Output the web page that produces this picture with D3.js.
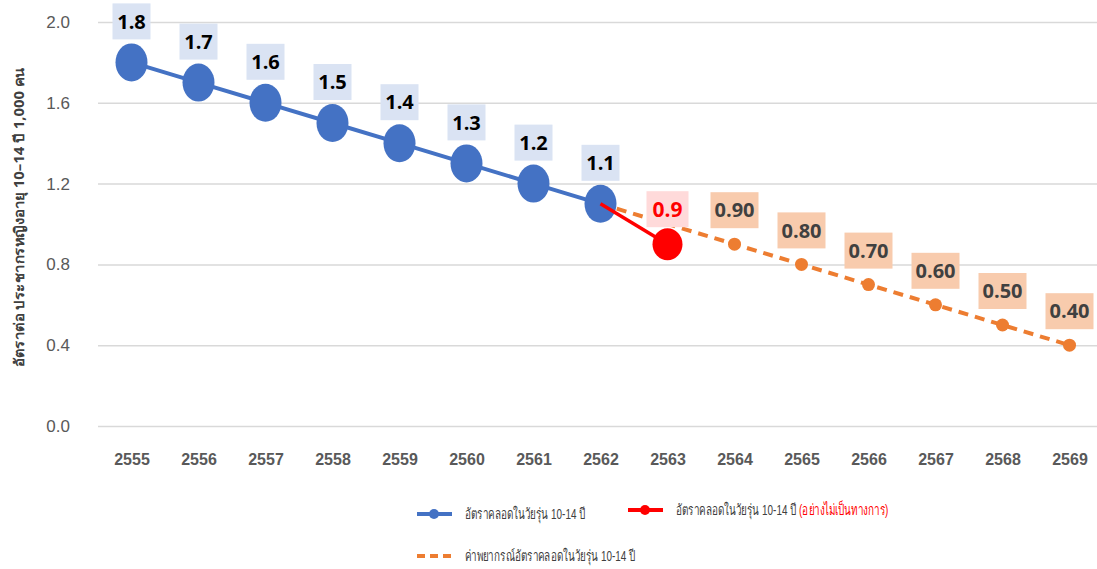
<!DOCTYPE html>
<html>
<head>
<meta charset="utf-8">
<script src="https://cdn.jsdelivr.net/npm/d3@7"></script>
<style>
  body { margin: 0; background: #fff; }
  text { font-family: "Liberation Sans", Arial, sans-serif; }
</style>
</head>
<body>
<div id="chart"></div>
<script>
// Years (Thai Buddhist calendar) and the three series.
const years = ["2555","2556","2557","2558","2559","2560","2561","2562","2563","2564","2565","2566","2567","2568","2569"];
const official = [1.8, 1.7, 1.6, 1.5, 1.4, 1.3, 1.2, 1.1];
const unofficial = [{year: "2562", value: 1.1}, {year: "2563", value: 0.9}];
// forecast series starts at 2562 and skips the blank 2563
const forecastYears = ["2562","2564","2565","2566","2567","2568","2569"];
const forecast = [1.1, 0.9, 0.8, 0.7, 0.6, 0.5, 0.4];
const yTicks = [0.0, 0.4, 0.8, 1.2, 1.6, 2.0];

const totalWidth = 1097;
const totalHeight = 569;
const margin = {top: 22, right: 0, bottom: 143, left: 98};
const width = 1005;
const height = totalHeight - margin.top - margin.bottom;

const svg = d3.select("#chart")
  .append("svg")
  .attr("width", totalWidth)
  .attr("height", totalHeight)
  .append("g")
  .attr("transform", `translate(${margin.left}, ${margin.top})`);

const x = d3.scalePoint().domain(years).range([33.5, width - 33.5]);
const y = d3.scaleLinear().domain([0, 2]).range([height, 0]);

// Gridlines + y labels
const yAxis = svg.append("g")
  .call(d3.axisLeft(y).tickValues(yTicks).tickFormat(d3.format(".1f")).tickSize(-width).tickPadding(28));
yAxis.select(".domain").remove();
yAxis.selectAll(".tick line").attr("stroke", "#d9d9d9").attr("stroke-width", 1.5);
yAxis.selectAll(".tick text").attr("fill", "#595959").style("font-size", "17px");

// x labels
const xAxis = svg.append("g")
  .attr("transform", `translate(0, ${height})`)
  .call(d3.axisBottom(x).tickSize(0).tickPadding(28));
xAxis.select(".domain").remove();
xAxis.selectAll(".tick text").attr("fill", "#595959").style("font-size", "16px").style("font-weight", "bold");

// y title
svg.append("text")
  .attr("transform", `translate(${-74}, ${195}) rotate(-90)`)
  .attr("text-anchor", "middle")
  .attr("fill", "#404040")
  .attr("textLength", 300)
  .attr("lengthAdjust", "spacingAndGlyphs")
  .style("font-size", "14px")
  .style("font-weight", "bold")
  .style("font-family", "'Noto Sans', sans-serif")
  .text("อัตราต่อ ประชากรหญิงอายุ 10–14 ปี 1,000 คน");

const line = d3.line().x(d => x(d.year)).y(d => y(d.value));

const officialData = official.map((v, i) => ({year: years[i], value: v}));
const forecastData = forecast.map((v, i) => ({year: forecastYears[i], value: v}));

// Lines
svg.append("path").datum(forecastData).attr("d", line)
  .attr("fill", "none").attr("stroke", "#ed7d31").attr("stroke-width", 4).attr("stroke-dasharray", "10,7");
svg.append("path").datum(officialData).attr("d", line)
  .attr("fill", "none").attr("stroke", "#4472c4").attr("stroke-width", 4);

// Markers
svg.selectAll(".blue").data(officialData).join("ellipse")
  .attr("cx", d => x(d.year)).attr("cy", d => y(d.value))
  .attr("rx", 16).attr("ry", 19).attr("fill", "#4472c4");
svg.selectAll(".orange").data(forecastData.slice(1)).join("circle")
  .attr("cx", d => x(d.year)).attr("cy", d => y(d.value))
  .attr("r", 6.5).attr("fill", "#ed7d31");
svg.append("ellipse")
  .attr("cx", x(unofficial[1].year)).attr("cy", y(unofficial[1].value))
  .attr("rx", 15).attr("ry", 16).attr("fill", "#ff0000");
svg.append("path").datum(unofficial).attr("d", line)
  .attr("fill", "none").attr("stroke", "#ff0000").attr("stroke-width", 3.5);

// Data labels
function labels(data, fmt, boxFill, textFill, dy, w, size) {
  const g = svg.append("g").selectAll("g").data(data).join("g")
    .attr("transform", d => `translate(${x(d.year)}, ${y(d.value) - dy})`);
  g.append("rect").attr("x", -w / 2).attr("y", -18).attr("width", w).attr("height", 36).attr("fill", boxFill);
  g.append("text").attr("text-anchor", "middle").attr("dy", "0.36em")
    .attr("fill", textFill).style("font-size", size + "px").style("font-weight", "bold")
    .style("font-family", "'Open Sans', 'Liberation Sans', sans-serif")
    .text(d => fmt(d.value));
}
labels(officialData, d3.format(".1f"), "#dae3f3", "#000000", 41, 38, 20);
labels([unofficial[1]], d3.format(".1f"), "#ffdada", "#ff0000", 35, 42, 21);
labels(forecastData.slice(1), d3.format(".2f"), "#f8cbad", "#404040", 34, 48, 20);

// Legend (Thai text squeezed horizontally to match the narrow source font)
const legend = d3.select("svg").append("g").style("font-family", "'Noto Sans', sans-serif");
const items = [
  {x: 417, y: 514, color: "#4472c4", dash: null, marker: true, text: "อัตราคลอดในวัยรุ่น 10-14 ปี", extra: ""},
  {x: 628, y: 510, color: "#ff0000", dash: null, marker: true, text: "อัตราคลอดในวัยรุ่น 10-14 ปี ", extra: "(อย่างไม่เป็นทางการ)"},
  {x: 417, y: 556, color: "#ed7d31", dash: "8,5", marker: false, text: "ค่าพยากรณ์อัตราคลอดในวัยรุ่น 10-14 ปี", extra: ""}
];
items.forEach(it => {
  legend.append("line").attr("x1", it.x).attr("x2", it.x + 35).attr("y1", it.y).attr("y2", it.y)
    .attr("stroke", it.color).attr("stroke-width", 4).attr("stroke-dasharray", it.dash);
  if (it.marker) legend.append("circle").attr("cx", it.x + 17).attr("cy", it.y).attr("r", 5).attr("fill", it.color);
  const t = legend.append("text")
    .attr("transform", `translate(${it.x + 48}, ${it.y}) scale(0.66, 1)`)
    .attr("dy", "0.35em")
    .attr("fill", "#404040").style("font-size", "15px");
  t.append("tspan").text(it.text);
  if (it.extra) t.append("tspan").attr("fill", "#ff0000").text(it.extra);
});
</script>
</body>
</html>
